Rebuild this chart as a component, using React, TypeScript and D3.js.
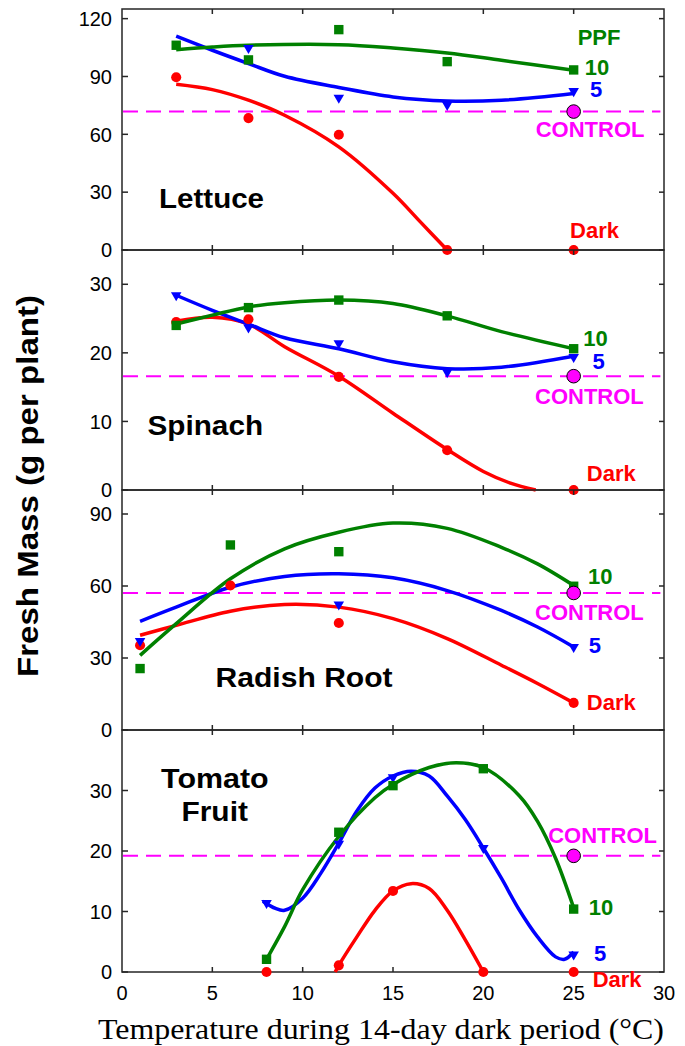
import React from "react";
import * as d3 from "d3";

type Pt = [number, number];

// temperature (°C) vs fresh mass (g per plant)
const xTicks = [0, 5, 10, 15, 20, 25, 30];

// Lettuce
const lettuceDark: Pt[] = [[3, 89.6], [7, 68.4], [12, 59.8], [18, 0], [25, 0]];
const lettuce5: Pt[] = [[7, 104.8], [12, 79], [18, 75.3], [25, 82.4]];
const lettuce10: Pt[] = [[3, 106.2], [7, 98.6], [12, 114.3], [18, 97.7], [25, 93.4]];
const lettuceControl = 71.8;
const lettuceDarkFit: Pt[] = [[3, 86], [5, 83.2], [7, 77.7], [9, 69.9], [12, 53.5], [15, 29.4], [16.5, 14.7], [18, 0]];
const lettuce5Fit: Pt[] = [[3, 110.9], [5, 103.6], [7, 96.7], [9, 90.1], [12, 84.3], [15, 79.4], [18, 77.3], [21, 77.7], [25, 81.2]];
const lettuce10Fit: Pt[] = [[3, 103.9], [5, 105.3], [7, 106.2], [12, 106.5], [15, 104.8], [18, 102.2], [21, 98.4], [25, 93.2]];

// Spinach
const spinachDark: Pt[] = [[3, 24.5], [7, 24.9], [12, 16.5], [18, 5.8], [25, 0]];
const spinach5: Pt[] = [[3, 28.4], [7, 23.7], [12, 21.4], [18, 17.2], [25, 19.4]];
const spinach10: Pt[] = [[3, 24.0], [7, 26.6], [12, 27.7], [18, 25.4], [25, 20.6]];
const spinachControl = 16.6;
const spinachDarkFit: Pt[] = [[3, 24.6], [5, 25.2], [7, 24.2], [9, 20.9], [12, 16.6], [15, 11.2], [18, 5.9], [20, 2.7], [21.5, 1.0], [22.9, 0]];
const spinach5Fit: Pt[] = [[3, 28.4], [5, 26.2], [7, 24.2], [9, 22.2], [12, 20.6], [15, 18.7], [18, 17.7], [21, 17.9], [25, 19.5]];
const spinach10Fit: Pt[] = [[3, 24.2], [5, 25.5], [7, 26.7], [9, 27.3], [12, 27.7], [15, 27.2], [18, 25.4], [21, 23.1], [25, 20.6]];

// Radish root
const radishDark: Pt[] = [[1, 35.3], [6, 60.2], [12, 44.6], [25, 11.3]];
const radish5: Pt[] = [[1, 37.1], [12, 52.3], [25, 34.6]];
const radish10: Pt[] = [[1, 25.6], [6, 77.1], [12, 74.3], [25, 59.9]];
const radishControl = 57.1;
const radishDarkFit: Pt[] = [[1, 39.5], [3, 43.6], [6, 49.5], [9, 52.3], [12, 51.2], [15, 46.4], [18, 38.1], [21, 27.0], [23, 19.4], [25, 11.3]];
const radish5Fit: Pt[] = [[1, 45.3], [3, 51.2], [6, 59.5], [9, 64.0], [12, 65.1], [15, 63.4], [18, 58.1], [21, 49.8], [23, 42.9], [25, 34.6]];
const radish10Fit: Pt[] = [[1, 31.1], [3, 44.3], [6, 63.0], [9, 75.5], [12, 82.4], [15, 86.2], [18, 84.0], [21, 76.1], [23, 69.2], [25, 60.2]];

// Tomato fruit
const tomatoDark: Pt[] = [[8, 0], [12, 1.1], [15, 13.4], [20, 0], [25, 0]];
const tomato5: Pt[] = [[8, 11.4], [12, 21.2], [15, 32.2], [20, 20.5], [25, 2.9]];
const tomato10: Pt[] = [[8, 2.1], [12, 23.1], [15, 30.8], [20, 33.6], [25, 10.4]];
const tomatoControl = 19.2;
const tomatoDarkFit: Pt[] = [[11.8, 0], [12, 1.1], [13, 5.8], [14, 10.2], [15, 13.4], [16, 14.6], [17, 13.8], [18, 10.2], [19, 5.3], [20, 0]];
const tomato5Fit: Pt[] = [[7.8, 11.7], [8.5, 10.5], [9, 10.2], [10, 12.2], [11, 16.3], [12, 21.3], [13, 26.6], [14, 30.4], [15, 32.4], [16, 33.2], [17, 32.4], [18, 29.1], [19, 25.2], [20, 20.5], [21, 15.5], [22, 10.2], [23, 5.8], [24, 2.5], [24.5, 2.1], [25, 3.3]];
const tomato10Fit: Pt[] = [[8, 2.1], [9, 7.5], [10, 13.6], [12, 22.4], [14, 28.8], [15, 31.0], [17, 33.8], [18.5, 34.6], [20, 33.8], [22, 29.1], [23, 24.9], [24, 18.8], [25, 10.6]];

const RED = "#ff0000";
const BLUE = "#0000ff";
const GREEN = "#008000";
const MAGENTA = "#ff00ff";

type Lbl = { text: string; t: number; v: number; color: string };

const panels = [
  {
    yMax: 125, top: 9, bottom: 250, ticks: [0, 30, 60, 90, 120],
    dark: lettuceDark, five: lettuce5, ten: lettuce10, control: lettuceControl,
    darkFit: lettuceDarkFit, fiveFit: lettuce5Fit, tenFit: lettuce10Fit,
    title: [{ text: "Lettuce", t: 2.05, v: 21.6, w: 105, anchor: "start" }],
    labels: [
      { text: "PPF", t: 25.22, v: 106.2, color: GREEN },
      { text: "10", t: 25.62, v: 90.6, color: GREEN },
      { text: "5", t: 25.9, v: 79.4, color: BLUE },
      { text: "CONTROL", t: 22.9, v: 58.7, color: MAGENTA },
      { text: "Dark", t: 24.8, v: 6.2, color: RED },
    ] as Lbl[],
  },
  {
    yMax: 35, top: 250, bottom: 490, ticks: [0, 10, 20, 30],
    dark: spinachDark, five: spinach5, ten: spinach10, control: spinachControl,
    darkFit: spinachDarkFit, fiveFit: spinach5Fit, tenFit: spinach10Fit,
    title: [{ text: "Spinach", t: 1.41, v: 8.0, w: 115.6, anchor: "start" }],
    labels: [
      { text: "10", t: 25.53, v: 21.0, color: GREEN },
      { text: "5", t: 26.04, v: 17.7, color: BLUE },
      { text: "CONTROL", t: 22.86, v: 12.6, color: MAGENTA },
      { text: "Dark", t: 25.73, v: 1.3, color: RED },
    ] as Lbl[],
  },
  {
    yMax: 100, top: 490, bottom: 730, ticks: [0, 30, 60, 90],
    dark: radishDark, five: radish5, ten: radish10, control: radishControl,
    darkFit: radishDarkFit, fiveFit: radish5Fit, tenFit: radish10Fit,
    title: [{ text: "Radish Root", t: 5.18, v: 18.0, w: 177, anchor: "start" }],
    labels: [
      { text: "10", t: 25.79, v: 60.9, color: GREEN },
      { text: "CONTROL", t: 22.86, v: 46.0, color: MAGENTA },
      { text: "5", t: 25.84, v: 31.9, color: BLUE },
      { text: "Dark", t: 25.73, v: 8.3, color: RED },
    ] as Lbl[],
  },
  {
    yMax: 40, top: 730, bottom: 972, ticks: [0, 10, 20, 30],
    dark: tomatoDark, five: tomato5, ten: tomato10, control: tomatoControl,
    darkFit: tomatoDarkFit, fiveFit: tomato5Fit, tenFit: tomato10Fit,
    title: [
      { text: "Tomato", t: 5.14, v: 30.45, w: 107.5, anchor: "middle" },
      { text: "Fruit", t: 5.13, v: 24.9, w: 66.5, anchor: "middle" },
    ],
    labels: [
      { text: "CONTROL", t: 23.59, v: 21.3, color: MAGENTA },
      { text: "10", t: 25.84, v: 9.4, color: GREEN },
      { text: "5", t: 26.12, v: 1.9, color: BLUE },
      { text: "Dark", t: 26.05, v: -2.5, color: RED },
    ] as Lbl[],
  },
];

const sansFont = "'Liberation Sans', Arial, Helvetica, sans-serif";

export default function App() {
  const x = d3.scaleLinear().domain([0, 30]).range([122, 664]);
  const squarePath = d3.symbol(d3.symbolSquare, 88)() as string;
  const circlePath = d3.symbol(d3.symbolCircle, 80)() as string;
  const trianglePath = d3.symbol(d3.symbolTriangle, 48)() as string;
  const axisColor = "#262626";

  return (
    <svg
      width={685}
      height={1046}
      style={{ position: "absolute", left: 0, top: 0, background: "#fff" }}
      fontFamily={sansFont}
    >
      <rect width={685} height={1046} fill="#fff" />
      {panels.map((p, i) => {
        const y = d3.scaleLinear().domain([0, p.yMax]).range([p.bottom, p.top]);
        const line = d3
          .line<Pt>()
          .x((d) => x(d[0]))
          .y((d) => y(d[1]))
          .curve(d3.curveCatmullRom.alpha(0.5));
        const [x0, x1] = x.range();
        return (
          <g key={i}>
            {/* frame */}
            <rect x={x0} y={p.top} width={x1 - x0} height={p.bottom - p.top} fill="none" stroke={axisColor} strokeWidth={1.5} />
            {/* inward ticks */}
            {p.ticks.map((t) => (
              <g key={"y" + t}>
                <line x1={x0} x2={x0 + 6} y1={y(t)} y2={y(t)} stroke={axisColor} strokeWidth={1.5} />
                <line x1={x1} x2={x1 - 5} y1={y(t)} y2={y(t)} stroke={axisColor} strokeWidth={1.5} />
                <text x={x0 - 10} y={y(t)} dy="0.36em" textAnchor="end" fontSize={20} fill="#000">
                  {t}
                </text>
              </g>
            ))}
            {xTicks.slice(1, -1).map((t) => (
              <g key={"x" + t}>
                <line x1={x(t)} x2={x(t)} y1={p.top} y2={p.top + 5} stroke={axisColor} strokeWidth={1.5} />
                <line x1={x(t)} x2={x(t)} y1={p.bottom} y2={p.bottom - 5} stroke={axisColor} strokeWidth={1.5} />
              </g>
            ))}
            {/* control reference */}
            <line
              x1={x(0) + 1}
              x2={x(29.8)}
              y1={y(p.control)}
              y2={y(p.control)}
              stroke={MAGENTA}
              strokeWidth={2}
              strokeDasharray="15 8"
            />
            {/* fitted curves */}
            <path d={line(p.darkFit) as string} fill="none" stroke={RED} strokeWidth={3.5} />
            <path d={line(p.fiveFit) as string} fill="none" stroke={BLUE} strokeWidth={3.5} />
            <path d={line(p.tenFit) as string} fill="none" stroke={GREEN} strokeWidth={3.5} />
            {/* observed points */}
            {p.dark.map((d, j) => (
              <path key={"d" + j} d={circlePath} transform={`translate(${x(d[0])},${y(d[1])})`} fill={RED} />
            ))}
            {p.five.map((d, j) => (
              <path key={"f" + j} d={trianglePath} transform={`translate(${x(d[0])},${y(d[1])}) rotate(180)`} fill={BLUE} />
            ))}
            {p.ten.map((d, j) => (
              <path key={"t" + j} d={squarePath} transform={`translate(${x(d[0])},${y(d[1])})`} fill={GREEN} />
            ))}
            <circle cx={x(25)} cy={y(p.control)} r={6.8} fill={MAGENTA} stroke="#000" strokeWidth={1} />
            {/* labels */}
            {p.labels.map((l) => (
              <text key={l.text} x={x(l.t)} y={y(l.v)} fontSize={22} fontWeight="bold" fill={l.color}>
                {l.text}
              </text>
            ))}
            {p.title.map((tt) => (
              <text
                key={tt.text}
                x={x(tt.t)}
                y={y(tt.v)}
                fontSize={27}
                fontWeight="bold"
                textAnchor={tt.anchor}
                textLength={tt.w}
                lengthAdjust="spacingAndGlyphs"
                fill="#000"
              >
                {tt.text}
              </text>
            ))}
          </g>
        );
      })}
      {/* x tick labels */}
      {xTicks.map((t) => (
        <text key={t} x={x(t)} y={1000} textAnchor="middle" fontSize={20} fill="#000">
          {t}
        </text>
      ))}
      <text
        x={381}
        y={1039}
        textAnchor="middle"
        fontFamily="'Liberation Serif', 'Times New Roman', serif"
        fontSize={30}
        textLength={566}
        lengthAdjust="spacingAndGlyphs"
        fill="#000"
      >
        Temperature during 14-day dark period (°C)
      </text>
      <text
        transform="translate(37.5,486) rotate(-90)"
        textAnchor="middle"
        fontSize={29}
        fontWeight="bold"
        textLength={382}
        lengthAdjust="spacingAndGlyphs"
        fill="#000"
      >
        Fresh Mass (g per plant)
      </text>
    </svg>
  );
}
